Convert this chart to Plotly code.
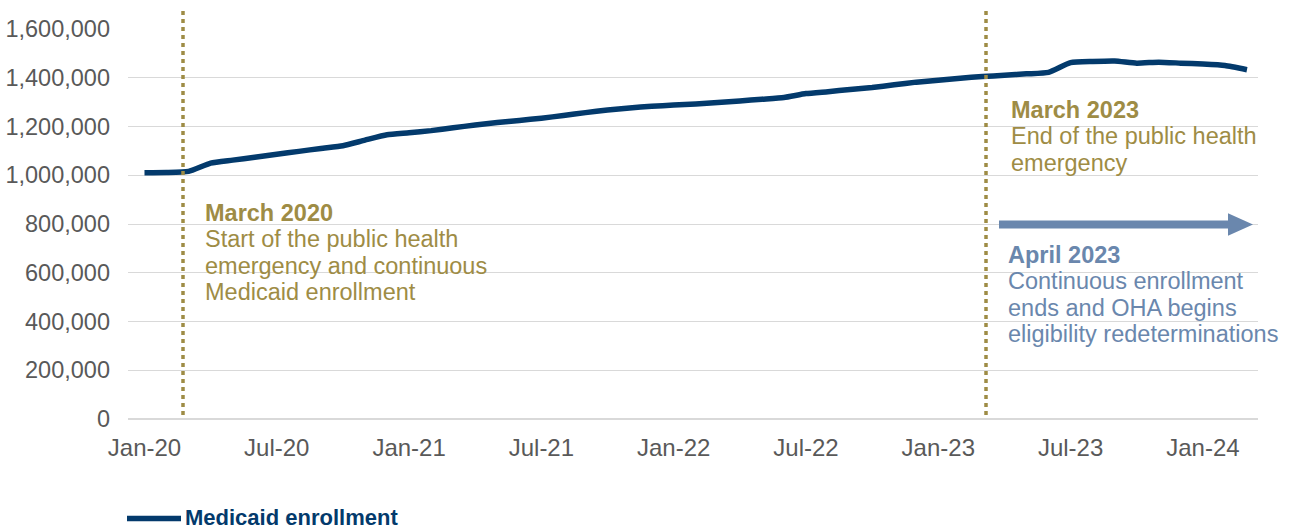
import pandas as pd
import plotly.graph_objects as go

# ---------------- data ----------------
months = pd.date_range("2020-01-01", "2024-03-01", freq="MS").strftime("%b-%y").tolist()

enrollment = [
    1010000, 1011000, 1016000, 1050000, 1062000, 1074000, 1086000, 1098000, 1110000, 1121000,
    1144000, 1166000, 1174000, 1183000, 1195000, 1206000, 1216000, 1225000, 1234000, 1245000,
    1257000, 1268000, 1276000, 1283000, 1288000, 1292000, 1298000, 1305000, 1312000, 1319000,
    1335000, 1343000, 1352000, 1360000, 1371000, 1382000, 1390000, 1398000, 1405000, 1410000,
    1416000, 1422000, 1462000, 1467000, 1469000, 1460000, 1464000, 1460000, 1456000, 1450000,
    1433000,
]

x_ticks = ["Jan-20", "Jul-20", "Jan-21", "Jul-21", "Jan-22", "Jul-22", "Jan-23", "Jul-23", "Jan-24"]
y_ticks = [0, 200000, 400000, 600000, 800000, 1000000, 1200000, 1400000, 1600000]

series_name = "Medicaid enrollment"
note1 = ["March 2020", "Start of the public health", "emergency and continuous", "Medicaid enrollment"]
note2 = ["March 2023", "End of the public health", "emergency"]
note3 = ["April 2023", "Continuous enrollment", "ends and OHA begins", "eligibility redeterminations"]

# ---------------- style ----------------
NAVY = "#033a6c"
OLIVE = "#9e8c45"
STEEL = "#6a87ad"
GRAY = "#595959"
GRID = "#d9d9d9"
FONT = "Liberation Sans, Arial, sans-serif"

W, H = 1289, 529
L, R, T, B = 128, 31, 29, 110
PW, PH = W - L - R, H - T - B


def px(xp):
    return (xp - L) / PW


def py(yp):
    return (H - B - yp) / PH


fig = go.Figure()
fig.add_trace(go.Scatter(
    x=months, y=enrollment, mode="lines", name=series_name,
    line=dict(color=NAVY, width=5.5, shape="spline", smoothing=0.5),
    showlegend=False, hoverinfo="x+y",
))

shapes = []
# white boxes behind the notes (hide gridlines)
for x0, x1, y0, y1 in [(178, 538, 188, 340), (989, 1289, 92, 196), (989, 1289, 238, 352)]:
    shapes.append(dict(type="rect", xref="paper", yref="paper",
                       x0=px(x0), x1=px(x1), y0=py(y1), y1=py(y0),
                       fillcolor="white", line=dict(width=0), layer="between"))
# dotted vertical lines
for xv in (183, 986):
    shapes.append(dict(type="line", xref="paper", yref="paper",
                       x0=px(xv), x1=px(xv), y0=py(415), y1=py(11),
                       line=dict(color=OLIVE, width=3.5, dash="4px,4px"), layer="above"))
# arrow
pts = [(999, 220.6), (1228, 220.6), (1228, 213.2), (1253, 224.5), (1228, 235.8), (1228, 228.4), (999, 228.4)]
path = "M " + " L ".join(f"{px(a):.5f},{py(b):.5f}" for a, b in pts) + " Z"
shapes.append(dict(type="path", xref="paper", yref="paper", path=path,
                   fillcolor=STEEL, line=dict(width=0), layer="above"))
# legend line sample
shapes.append(dict(type="line", xref="paper", yref="paper",
                   x0=px(127), x1=px(181), y0=py(518.5), y1=py(518.5),
                   line=dict(color=NAVY, width=5.5)))

annotations = []


def block(lines, x0, y_first, color, step=26.3, size=23.5):
    for i, t in enumerate(lines):
        txt = f"<b>{t}</b>" if i == 0 else t
        annotations.append(dict(
            text=txt, xref="paper", yref="paper", x=px(x0), y=py(y_first + i * step),
            xanchor="left", yanchor="middle", showarrow=False,
            font=dict(family=FONT, size=size, color=color), borderpad=0,
        ))


block(note1, 204, 213, OLIVE)
block(note2, 1010, 110, OLIVE)
block(note3, 1007, 255, STEEL)

annotations.append(dict(
    text=f"<b>{series_name}</b>", xref="paper", yref="paper", x=px(184), y=py(517),
    xanchor="left", yanchor="middle", showarrow=False,
    font=dict(family=FONT, size=22, color=NAVY), borderpad=0,
))

fig.update_layout(
    width=W, height=H,
    margin=dict(l=L, r=R, t=T, b=B, autoexpand=False),
    paper_bgcolor="white", plot_bgcolor="white",
    shapes=shapes, annotations=annotations,
    font=dict(family=FONT, color=GRAY),
)
fig.update_xaxes(
    type="category", range=[-0.748, 50.5], automargin=False,
    tickmode="array", tickvals=x_ticks, ticktext=x_ticks,
    showgrid=False, zeroline=False, showline=False, ticks="",
    tickfont=dict(family=FONT, size=24, color=GRAY), ticklabelstandoff=12,
)
fig.update_yaxes(
    range=[0, 1600000], tickmode="array", tickvals=y_ticks, tickformat=",",
    automargin=False,
    showgrid=True, gridcolor=GRID, gridwidth=1.2,
    zeroline=True, zerolinecolor=GRID, zerolinewidth=2,
    showline=False, ticks="",
    tickfont=dict(family=FONT, size=23.5, color=GRAY), ticklabelstandoff=17,
)

fig.write_html("out.html")
